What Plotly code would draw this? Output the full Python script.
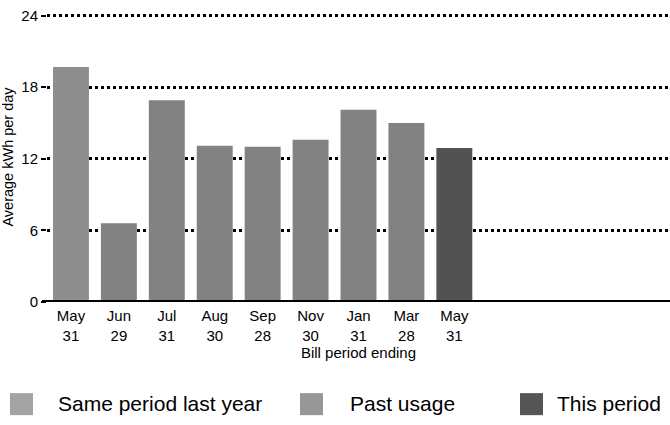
import plotly.graph_objects as go

periods = ["May<br>31", "Jun<br>29", "Jul<br>31", "Aug<br>30", "Sep<br>28",
           "Nov<br>30", "Jan<br>31", "Mar<br>28", "May<br>31"]
usage = [19.7, 6.6, 16.9, 13.1, 13.0, 13.6, 16.1, 15.0, 12.9]
kinds = ["Same period last year", "Past usage", "Past usage", "Past usage", "Past usage",
         "Past usage", "Past usage", "Past usage", "This period"]
y_ticks = [0, 6, 12, 18, 24]

colors = {"Same period last year": "#8e8e8e", "Past usage": "#828282", "This period": "#525252"}
legend_colors = {"Same period last year": "#a3a3a3", "Past usage": "#979797", "This period": "#555555"}
legend_names = ["Same period last year", "Past usage", "This period"]

W, H = 670, 425
PL, PB = 47, 302          # plot left edge, zero-line pixel row
PH = 289.6                # plot height in px
fig = go.Figure()
x_pos = list(range(len(periods)))
fig.add_trace(go.Bar(
    x=x_pos, y=usage, width=0.75,
    marker=dict(color=[colors[k] for k in kinds], line=dict(width=0)),
    showlegend=False, hoverinfo="y",
))

# zero baseline
fig.add_shape(type="line", xref="paper", yref="y", x0=-0.008, x1=1, y0=0, y1=0,
              line=dict(color="black", width=4), layer="above")

# manual legend
leg_x = [10, 300, 520]
leg_tx = [56, 348, 555]
for name, sx, tx in zip(legend_names, leg_x, leg_tx):
    fig.add_shape(type="rect", xref="paper", yref="paper",
                  x0=(sx - PL) / (W - PL), x1=(sx + 23 - PL) / (W - PL),
                  y0=-(393 - PB) / PH, y1=-(415 - PB) / PH,
                  fillcolor=legend_colors[name], line=dict(width=0))
    fig.add_annotation(xref="paper", yref="paper",
                       x=(tx - PL) / (W - PL), y=-(403 - PB) / PH,
                       text=name, showarrow=False, xanchor="left", yanchor="middle",
                       font=dict(size=21, color="black"))

fig.update_layout(
    width=W, height=H,
    margin=dict(l=PL, r=0, t=PB - PH, b=H - PB),
    paper_bgcolor="white", plot_bgcolor="white",
    font=dict(family="Liberation Sans, Arial, sans-serif", color="black", size=15),
    xaxis=dict(range=[-0.5, 12.5], tickvals=x_pos, ticktext=periods,
               showgrid=False, zeroline=False, showline=False, ticks="",
               tickfont=dict(size=15), ticklabelstandoff=3,
               title=dict(text="Bill period ending", font=dict(size=15), standoff=3)),
    yaxis=dict(range=[0, 24.3], tickvals=y_ticks, showgrid=True,
               gridcolor="black", griddash="dot", gridwidth=2.6,
               zeroline=False, showline=False, ticks="outside", ticklen=5,
               tickwidth=2, tickcolor="black", tickfont=dict(size=15),
               title=dict(text="Average kWh per day", font=dict(size=14.5), standoff=4)),
)

fig.write_html("out.html", config={"displayModeBar": False},
               post_script="document.body.style.margin='0';")
